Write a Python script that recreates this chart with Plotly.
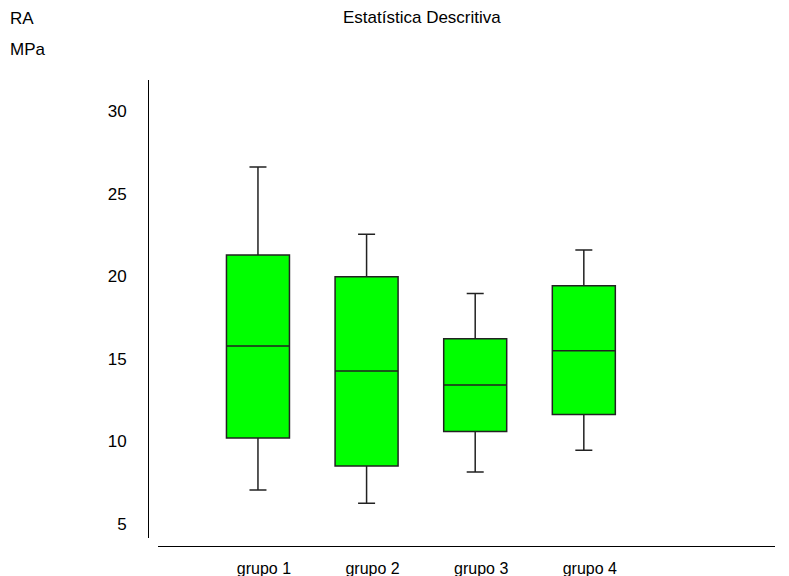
import plotly.graph_objects as go

categories = ["grupo 1", "grupo 2", "grupo 3", "grupo 4"]
lower_whisker = [7.05, 6.25, 8.15, 9.46]
q1_values = [10.21, 8.51, 10.60, 11.62]
median_values = [15.77, 14.26, 13.41, 15.49]
q3_values = [21.28, 19.97, 16.22, 19.42]
upper_whisker = [26.61, 22.54, 18.96, 21.59]
y_ticks = [5, 10, 15, 20, 25, 30]

font_family = "Liberation Sans, Arial, sans-serif"

# plot-area geometry in window pixels (for placing annotations)
PL, PR, PT, PB = 148, 775, 80, 546
PW, PH = PR - PL, PB - PT


def px(x):
    return (x - PL) / PW


def py(y):
    return (PB - y) / PH


fig = go.Figure()
fig.add_trace(go.Box(
    x=categories,
    q1=q1_values,
    median=median_values,
    q3=q3_values,
    lowerfence=lower_whisker,
    upperfence=upper_whisker,
    fillcolor="#00FF00",
    line=dict(color="#222222", width=1.5),
    whiskerwidth=0.27,
    width=0.58,
    boxpoints=False,
    showlegend=False,
    hoverinfo="skip",
))

fig.update_layout(
    width=773,
    height=568,
    margin=dict(l=140, r=6, t=72, b=30, autoexpand=False),
    paper_bgcolor="white",
    plot_bgcolor="white",
    font=dict(family=font_family, size=16, color="#000000"),
    xaxis=dict(
        domain=[0.016, 1],
        anchor="free",
        position=0,
        range=[-0.92, 4.76],
        showline=True,
        linecolor="#000000",
        linewidth=1,
        showgrid=False,
        zeroline=False,
        ticks="",
        automargin=False,
        ticklabelstandoff=8,
        ticklabelshift=6,
        tickfont=dict(size=16, family=font_family),
    ),
    yaxis=dict(
        domain=[0.0172, 1],
        anchor="free",
        position=0,
        range=[4.15, 31.88],
        tickvals=y_ticks,
        showline=True,
        linecolor="#000000",
        linewidth=1,
        showgrid=False,
        zeroline=False,
        ticks="",
        automargin=False,
        ticklabelstandoff=18,
        tickfont=dict(size=17, family=font_family),
    ),
    annotations=[
        dict(text="Estatística Descritiva", xref="paper", yref="paper",
             x=px(422), y=py(18), xanchor="center", yanchor="middle",
             showarrow=False, font=dict(size=17, family=font_family)),
        dict(text="RA", xref="paper", yref="paper",
             x=px(8), y=py(19), xanchor="left", yanchor="middle",
             showarrow=False, font=dict(size=17, family=font_family)),
        dict(text="MPa", xref="paper", yref="paper",
             x=px(8), y=py(49), xanchor="left", yanchor="middle",
             showarrow=False, font=dict(size=17, family=font_family)),
    ],
)

fig.write_html("out.html", post_script="document.body.style.overflow='hidden';")
